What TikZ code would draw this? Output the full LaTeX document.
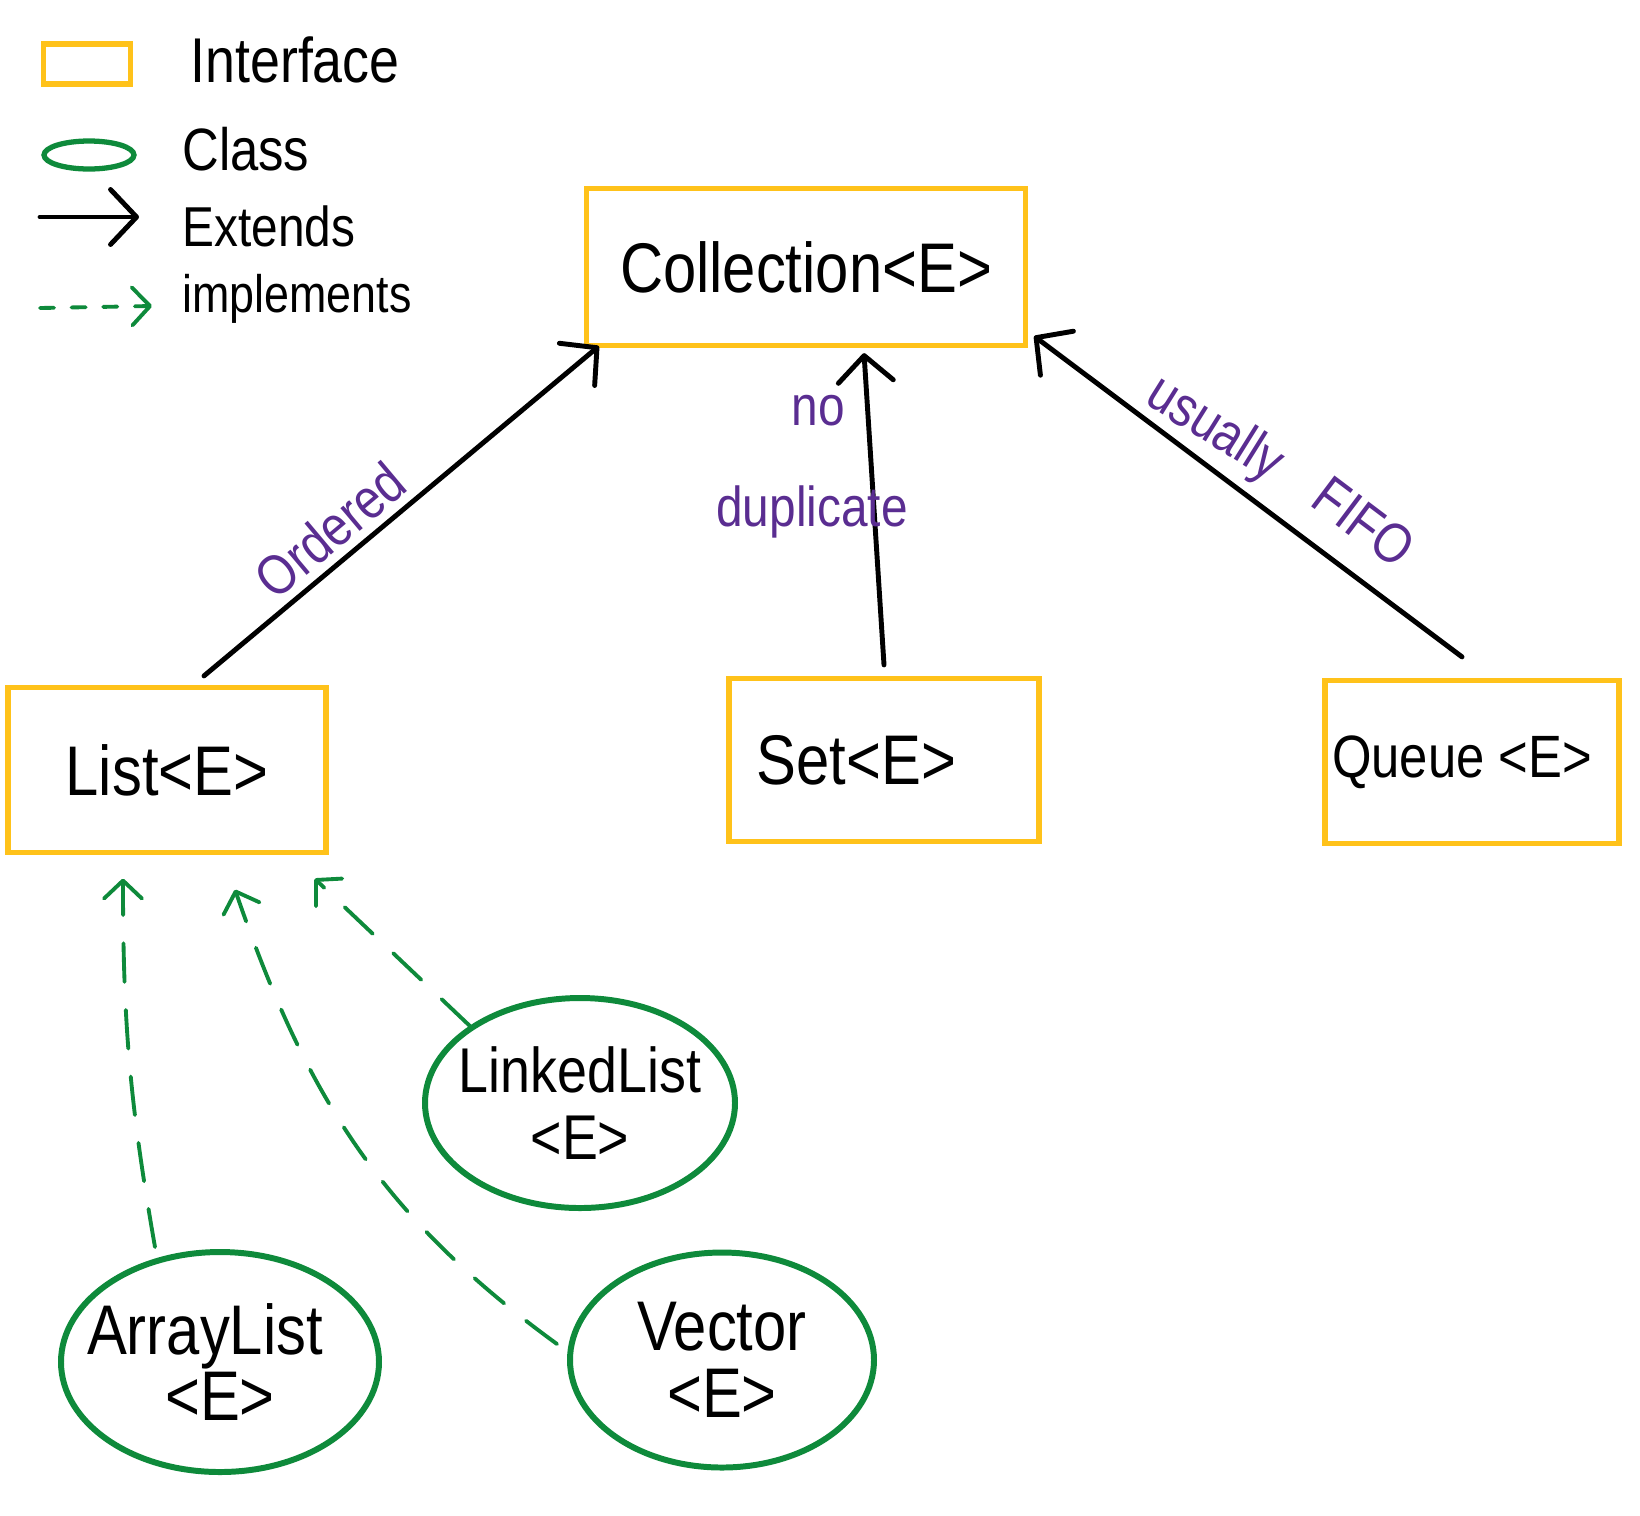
\documentclass[tikz,border=0pt]{standalone}
\usepackage{fontspec}
\setmainfont{Liberation Sans}[FakeStretch=0.85]
\usetikzlibrary{positioning, arrows.meta, shapes.geometric, calc}
\definecolor{ifaceorange}{HTML}{FFC21A}
\definecolor{classgreen}{HTML}{0E8A3B}
\definecolor{notepurple}{HTML}{5A2D91}

\begin{document}
\begin{tikzpicture}[
    every node/.style={font=\fontsize{20}{20}\selectfont},
    iface/.style={draw=ifaceorange, line width=1.5pt, inner sep=0pt},
    cls/.style={ellipse, draw=classgreen, line width=1.7pt, inner xsep=-0.3cm,
      inner ysep=0pt, align=center, font=\fontsize{20}{19}\selectfont},
    extends/.style={-{Straight Barb[round, length=2.6mm, width=5.5mm]},
      line width=1.4pt, line cap=round},
    impl/.style={-{Straight Barb[round, length=1.8mm, width=3.8mm]},
      draw=classgreen, line width=1.1pt, dash pattern=on 11pt off 8pt, line cap=round},
    note/.style={text=notepurple, font=\fontsize{16}{16}\selectfont},
    legtext/.style={anchor=base west, font=\fontsize{18}{18}\selectfont},
  ]
  \useasboundingbox (0,0) rectangle (16.4,-15.15);

  % legend
  \node[iface, minimum width=0.87cm, minimum height=0.40cm] (legiface) at (0.87,-0.64) {};
  \node[legtext] (legifacetxt) at (1.78,-0.82) {Interface};
  \node[ellipse, draw=classgreen, line width=1.5pt, inner sep=0pt,
        minimum width=0.9cm, minimum height=0.28cm] (legcls) at (0.89,-1.55) {};
  \node[legtext, font=\fontsize{17}{17}\selectfont] (legclstxt) at (1.70,-1.70) {Class};
  \coordinate (extA) at (0.40,-2.17);
  \coordinate (extB) at (1.39,-2.17);
  \draw[extends] (extA) -- (extB);
  \node[legtext, font=\fontsize{16}{16}\selectfont] (legexttxt) at (1.70,-2.46) {Extends};
  \coordinate (implA) at (0.40,-3.08);
  \coordinate (implB) at (1.52,-3.06);
  \draw[impl, dash pattern=on 4pt off 5pt] (implA) -- (implB);
  \node[legtext, font=\fontsize{15}{15}\selectfont] (legimpltxt) at (1.70,-3.12) {implements};

  % interfaces
  \node[iface, minimum width=4.39cm, minimum height=1.57cm] (coll) at (8.06,-2.67)
    {Collection<E>};
  \node[iface, minimum width=3.18cm, minimum height=1.65cm] (list) at (1.67,-7.70)
    {List<E>};
  \node[iface, minimum width=3.10cm, minimum height=1.63cm] (set) at (8.84,-7.60)
    {Set<E>\hspace*{0.55cm}};
  \node[iface, minimum width=2.94cm, minimum height=1.63cm,
        font=\fontsize{17}{17}\selectfont] (queue) at (14.72,-7.62)
    {Queue <E>\hspace*{0.2cm}};

  \draw[extends] ([xshift=0.37cm, yshift=0.09cm]list.north)
    -- ([xshift=0.15cm, yshift=0.02cm]coll.south west);
  \draw[extends] ([yshift=0.11cm]set.north)
    -- ([xshift=0.58cm, yshift=-0.05cm]coll.south);
  \draw[extends] ([xshift=-0.10cm, yshift=0.21cm]queue.north)
    -- ([xshift=0.06cm, yshift=0.12cm]coll.south east);

  \node[note, rotate=40] (ordered) at (3.30,-5.30) {Ordered};
  \node[note] (no) at (8.18,-4.11) {no};
  \node[note] (dup) at (8.12,-5.12) {duplicate};
  \node[note, rotate=-32] (usually) at (12.14,-4.30) {usually};
  \node[note, rotate=-37] (fifo) at (13.64,-5.22) {FIFO};

  % classes
  \node[cls, minimum width=3.18cm, minimum height=2.20cm] (arr) at (2.20,-13.62)
    {ArrayList\hspace*{0.3cm}\\<E>};
  \node[cls, minimum width=3.10cm, minimum height=2.10cm,
        font=\fontsize{18}{19}\selectfont] (lnk) at (5.80,-11.03)
    {LinkedList\\<E>};
  \node[cls, minimum width=3.04cm, minimum height=2.15cm] (vec) at (7.22,-13.60)
    {Vector\\<E>};

  \draw[impl] ([xshift=-0.65cm, yshift=0.02cm]arr.north) to[bend left=5]
    ([xshift=-0.44cm, yshift=-0.235cm]list.south);
  \draw[impl] ([xshift=-0.10cm, yshift=0.16cm]vec.west) to[out=144, in=-71]
    ([xshift=0.68cm, yshift=-0.345cm]list.south);
  \draw[impl] (lnk.145) -- ([xshift=-0.14cm, yshift=-0.235cm]list.south east);
\end{tikzpicture}
\end{document}
